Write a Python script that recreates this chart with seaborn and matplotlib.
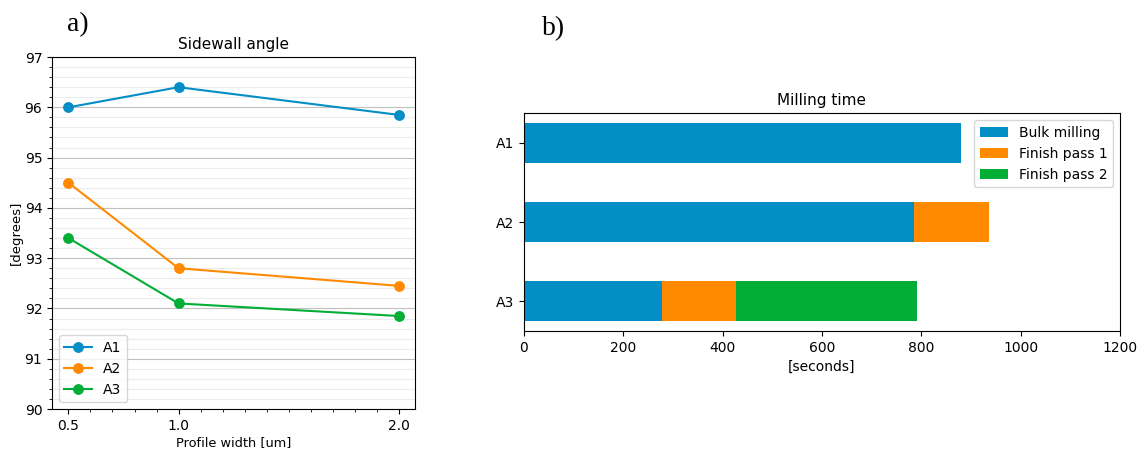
import numpy as np
import pandas as pd
import matplotlib
matplotlib.use('Agg')
import matplotlib.pyplot as plt
from matplotlib.ticker import MultipleLocator
import seaborn as sns

# Data
widths = [0.5, 1.0, 2.0]
angle_a1 = [96.0, 96.4, 95.85]
angle_a2 = [94.5, 92.8, 92.45]
angle_a3 = [93.4, 92.1, 91.85]

recipes = ['A1', 'A2', 'A3']
bulk_milling = [880, 786, 277]
finish_pass_1 = [0, 150, 150]
finish_pass_2 = [0, 0, 365]

blue = '#038ec5'
orange = '#ff8a00'
green = '#02ae36'

fig = plt.figure(figsize=(11.4, 4.49), dpi=100)
ax1 = fig.add_axes([0.0456, 0.089, 0.3185, 0.784])
ax2 = fig.add_axes([0.4596, 0.263, 0.5229, 0.485])

# a) sidewall angle
for vals, name, col in [(angle_a1, 'A1', blue), (angle_a2, 'A2', orange), (angle_a3, 'A3', green)]:
    sns.lineplot(x=widths, y=vals, marker='o', color=col, label=name,
                 markersize=7, markeredgecolor=col, linewidth=1.5, ax=ax1)

ax1.set_ylim(90, 97)
ax1.set_xticks(widths)
ax1.set_xticklabels(['0.5', '1.0', '2.0'])
ax1.xaxis.set_minor_locator(MultipleLocator(0.1))
ax1.yaxis.set_minor_locator(MultipleLocator(0.2))
ax1.grid(which='major', axis='y', color='#c0c0c0', linewidth=0.8)
ax1.grid(which='minor', axis='y', color='#ececec', linewidth=0.8)
ax1.set_axisbelow(True)
ax1.set_title('Sidewall angle', fontsize=11)
ax1.set_xlabel('Profile width [um]', fontsize=9.3, labelpad=2)
ax1.set_ylabel('[degrees]', fontsize=9.5, labelpad=1)
ax1.legend(loc='lower left')

# b) milling time, stacked by overlaying cumulative totals
tot_1 = np.array(bulk_milling) + np.array(finish_pass_1)
tot_2 = tot_1 + np.array(finish_pass_2)
sns.barplot(x=tot_2, y=recipes, orient='h', color=green, saturation=1, width=0.5,
            label='Finish pass 2', ax=ax2)
sns.barplot(x=tot_1, y=recipes, orient='h', color=orange, saturation=1, width=0.5,
            label='Finish pass 1', ax=ax2)
sns.barplot(x=bulk_milling, y=recipes, orient='h', color=blue, saturation=1, width=0.5,
            label='Bulk milling', ax=ax2)

ax2.set_xlim(0, 1200)
ax2.set_ylim(2.375, -0.375)
ax2.set_title('Milling time', fontsize=11)
ax2.set_xlabel('[seconds]')
ax2.set_ylabel('')
handles, labels = ax2.get_legend_handles_labels()
order = [labels.index(l) for l in ['Bulk milling', 'Finish pass 1', 'Finish pass 2']]
ax2.legend([handles[i] for i in order], [labels[i] for i in order], loc='upper right')

fig.text(0.059, 0.93, 'a)', family='Liberation Serif', fontsize=20)
fig.text(0.475, 0.922, 'b)', family='Liberation Serif', fontsize=20)

fig.savefig('out.png', dpi=100)
